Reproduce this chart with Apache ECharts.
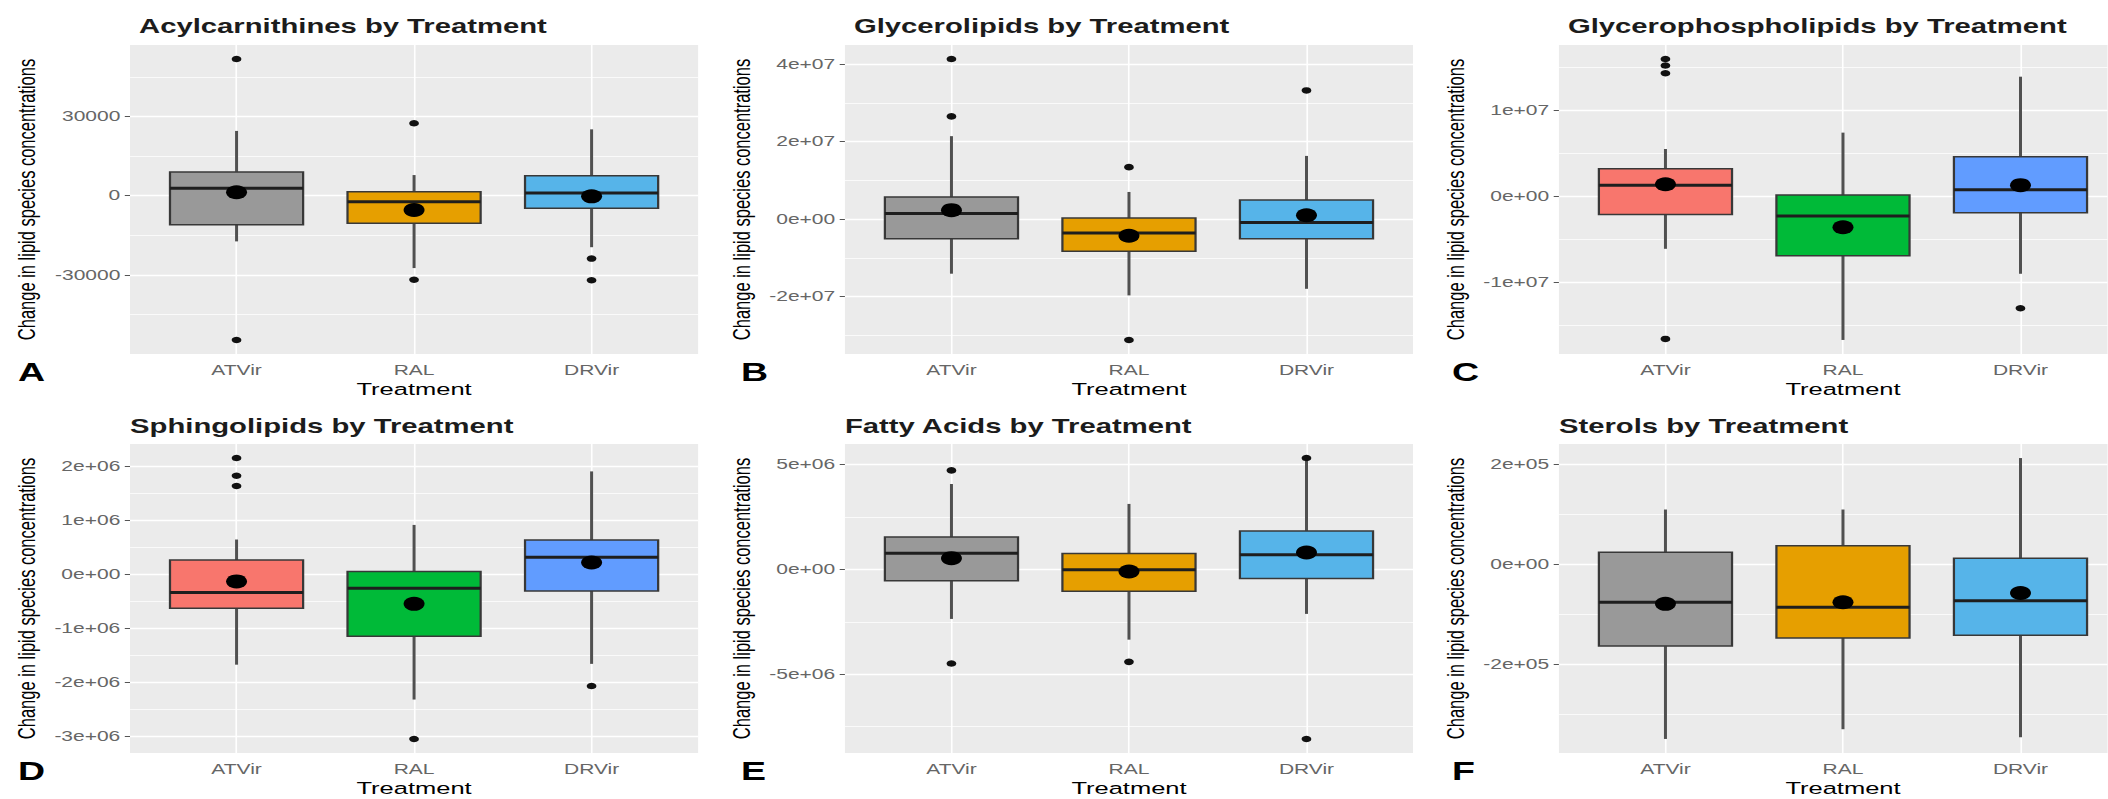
<!DOCTYPE html>
<html>
<head>
<meta charset="utf-8">
<script src="https://cdn.jsdelivr.net/npm/echarts@6/dist/echarts.min.js"></script>
<style>
html, body { margin: 0; padding: 0; background: #ffffff; overflow: hidden; width: 2108px; height: 799px; }
#chart { width: 1405.33px; height: 799px; transform: scaleX(1.5); transform-origin: 0 0; }
</style>
</head>
<body>
<div id="chart"></div>
<script>
// ---------------- DATA ----------------
const categories = ['ATVir', 'RAL', 'DRVir'];
const yAxisTitle = 'Change in lipid species concentrations';
const xAxisTitle = 'Treatment';

// each box: [lower whisker, Q1, median, Q3, upper whisker]; outliers: [category index, value]

// A - Acylcarnithines
const acylBoxes = [
  [-17300, -11000, 2800, 9000, 24500],
  [-27400, -10400, -2300, 1500, 7800],
  [-19500, -4800, 1000, 7500, 25100]
];
const acylMeans = [1300, -5400, -250];
const acylOutliers = [[0, 51700], [0, -54600], [1, 27400], [1, -31800], [2, -23800], [2, -32000]];
const acylTicks = [-30000, 0, 30000];
const acylTickLabels = ['-30000', '0', '30000'];
const acylMinorTicks = [-45000, -15000, 15000, 45000];

// B - Glycerolipids
const glyBoxes = [
  [-14100000, -5100000, 1450000, 5700000, 21400000],
  [-19700000, -8300000, -3600000, 260000, 7000000],
  [-18000000, -5100000, -860000, 4900000, 16300000]
];
const glyMeans = [2300000, -4300000, 1000000];
const glyOutliers = [[0, 41300000], [0, 26500000], [1, 13400000], [1, -31200000], [2, 33200000]];
const glyTicks = [-20000000, 0, 20000000, 40000000];
const glyTickLabels = ['-2e+07', '0e+00', '2e+07', '4e+07'];
const glyMinorTicks = [-30000000, -10000000, 10000000, 30000000];

// C - Glycerophospholipids
const gplBoxes = [
  [-6100000, -2100000, 1300000, 3200000, 5500000],
  [-16690000, -6900000, -2300000, 150000, 7400000],
  [-9000000, -1900000, 770000, 4600000, 13900000]
];
const gplMeans = [1400000, -3600000, 1300000];
const gplOutliers = [[0, 15950000], [0, 15200000], [0, 14300000], [0, -16570000], [2, -13000000]];
const gplTicks = [-10000000, 0, 10000000];
const gplTickLabels = ['-1e+07', '0e+00', '1e+07'];
const gplMinorTicks = [-15000000, -5000000, 5000000, 15000000];

// D - Sphingolipids
const sphBoxes = [
  [-1675000, -630000, -340000, 260000, 640000],
  [-2320000, -1150000, -260000, 50000, 910000],
  [-1660000, -310000, 310000, 630000, 1900000]
];
const sphMeans = [-135000, -550000, 215000];
const sphOutliers = [[0, 2147000], [0, 1820000], [0, 1630000], [1, -3049000], [2, -2070000]];
const sphTicks = [-3000000, -2000000, -1000000, 0, 1000000, 2000000];
const sphTickLabels = ['-3e+06', '-2e+06', '-1e+06', '0e+00', '1e+06', '2e+06'];
const sphMinorTicks = [-2500000, -1500000, -500000, 500000, 1500000];

// E - Fatty Acids
const faBoxes = [
  [-2360000, -540000, 780000, 1550000, 4080000],
  [-3350000, -1040000, -16000, 760000, 3130000],
  [-2120000, -430000, 700000, 1840000, 5190000]
];
const faMeans = [540000, -95000, 810000];
const faOutliers = [[0, 4730000], [0, -4490000], [1, -4410000], [2, 5320000], [2, -8090000]];
const faTicks = [-5000000, 0, 5000000];
const faTickLabels = ['-5e+06', '0e+00', '5e+06'];
const faMinorTicks = [-7500000, -2500000, 2500000];

// F - Sterols
const stBoxes = [
  [-348400, -163300, -76000, 24000, 109000],
  [-329000, -147000, -86000, 37000, 109000],
  [-345000, -141500, -73000, 12000, 211600]
];
const stMeans = [-79000, -76000, -57500];
const stOutliers = [];
const stTicks = [-200000, 0, 200000];
const stTickLabels = ['-2e+05', '0e+00', '2e+05'];
const stMinorTicks = [-300000, -100000, 100000];

// ---------------- STYLE / LAYOUT ----------------
const FONT = '"Liberation Sans", Arial, Helvetica, sans-serif';
const PAL_CB = ['#999999', '#E69F00', '#56B4E9'];
const PAL_GG = ['#F8766D', '#00BA38', '#619CFF'];
const COL_LEFT = [86.7, 563.3, 1039.3];
const TAG_LEFT = [12, 494, 968];
const ROW_TOP = [45, 444];
const PLOT_W = 378.7;
const PLOT_H = 309;
const TITLE_TOP = [16.3, 416.3];
const TITLE_DX = [6, 0];
const TAG_Y = [372.5, 771];
const BOX_WIDTH = 0.75;

const panels = [
  { title: 'Acylcarnithines by Treatment', tag: 'A', boxes: acylBoxes, means: acylMeans, outliers: acylOutliers, ticks: acylTicks, tickLabels: acylTickLabels, minor: acylMinorTicks, palette: PAL_CB, col: 0, row: 0 },
  { title: 'Glycerolipids by Treatment', tag: 'B', boxes: glyBoxes, means: glyMeans, outliers: glyOutliers, ticks: glyTicks, tickLabels: glyTickLabels, minor: glyMinorTicks, palette: PAL_CB, col: 1, row: 0 },
  { title: 'Glycerophospholipids by Treatment', tag: 'C', boxes: gplBoxes, means: gplMeans, outliers: gplOutliers, ticks: gplTicks, tickLabels: gplTickLabels, minor: gplMinorTicks, palette: PAL_GG, col: 2, row: 0 },
  { title: 'Sphingolipids by Treatment', tag: 'D', boxes: sphBoxes, means: sphMeans, outliers: sphOutliers, ticks: sphTicks, tickLabels: sphTickLabels, minor: sphMinorTicks, palette: PAL_GG, col: 0, row: 1 },
  { title: 'Fatty Acids by Treatment', tag: 'E', boxes: faBoxes, means: faMeans, outliers: faOutliers, ticks: faTicks, tickLabels: faTickLabels, minor: faMinorTicks, palette: PAL_CB, col: 1, row: 1 },
  { title: 'Sterols by Treatment', tag: 'F', boxes: stBoxes, means: stMeans, outliers: stOutliers, ticks: stTicks, tickLabels: stTickLabels, minor: stMinorTicks, palette: PAL_CB, col: 2, row: 1 }
];

function renderBox(params, api) {
  const x = api.value(0);
  const pLo = api.coord([x, api.value(1)]);
  const pQ1 = api.coord([x, api.value(2)]);
  const pMed = api.coord([x, api.value(3)]);
  const pQ3 = api.coord([x, api.value(4)]);
  const pHi = api.coord([x, api.value(5)]);
  const half = api.size([BOX_WIDTH, 0])[0] / 2;
  const cx = pMed[0];
  return {
    type: 'group',
    children: [
      { type: 'line', shape: { x1: cx, y1: pHi[1], x2: cx, y2: pQ3[1] }, style: { stroke: '#505050', lineWidth: 2 } },
      { type: 'line', shape: { x1: cx, y1: pQ1[1], x2: cx, y2: pLo[1] }, style: { stroke: '#505050', lineWidth: 2 } },
      { type: 'rect', shape: { x: cx - half, y: pQ3[1], width: 2 * half, height: pQ1[1] - pQ3[1] }, style: { fill: api.visual('color'), stroke: '#383838', lineWidth: 1.5 } },
      { type: 'line', shape: { x1: cx - half, y1: pMed[1], x2: cx + half, y2: pMed[1] }, style: { stroke: '#1e1e1e', lineWidth: 3 } }
    ]
  };
}

const option = {
  animation: false,
  backgroundColor: '#ffffff',
  textStyle: { fontFamily: FONT },
  title: [], grid: [], xAxis: [], yAxis: [], series: [], graphic: []
};

panels.forEach((p, i) => {
  const left = COL_LEFT[p.col];
  const top = ROW_TOP[p.row];
  const positions = categories.map((c, k) => k + 1);
  const allVals = [];
  p.boxes.forEach(b => { allVals.push(b[0], b[4]); });
  p.outliers.forEach(o => allVals.push(o[1]));
  const dMin = Math.min(...allVals), dMax = Math.max(...allVals);
  const pad = (dMax - dMin) * 0.05;

  option.grid.push({
    left: left, top: top, width: PLOT_W, height: PLOT_H, z: 0,
    show: true, backgroundColor: '#EBEBEB', borderWidth: 0,
    containLabel: false, outerBoundsMode: 'none'
  });
  option.title.push({
    text: p.title, left: left + TITLE_DX[p.row], top: TITLE_TOP[p.row], padding: 0,
    textStyle: { fontSize: 19.5, lineHeight: 20, fontWeight: 'bold', color: '#1c1c1c', fontFamily: FONT }
  });
  option.xAxis.push({
    type: 'value', gridIndex: i, min: 0.4, max: 3.6,
    name: xAxisTitle, nameLocation: 'middle', nameGap: 27,
    nameTextStyle: { fontSize: 17, color: '#000', fontFamily: FONT },
    axisLine: { show: false }, splitLine: { show: false }, minorSplitLine: { show: false },
    axisTick: { show: true, customValues: positions, length: 3.5, lineStyle: { color: '#555', width: 1 } },
    axisLabel: { show: true, customValues: positions, formatter: v => categories[Math.round(v) - 1] || '', fontSize: 14, color: '#666', margin: 9, fontFamily: FONT }
  });
  option.yAxis.push({
    type: 'value', gridIndex: i, min: dMin - pad, max: dMax + pad,
    name: yAxisTitle, nameLocation: 'middle', nameGap: 61,
    nameTextStyle: { fontSize: 16.5, color: '#000', fontFamily: FONT },
    axisLine: { show: false }, splitLine: { show: false },
    axisTick: { show: true, customValues: p.ticks, length: 3.5, lineStyle: { color: '#555', width: 1 } },
    axisLabel: { show: true, customValues: p.ticks, formatter: v => { const k = p.ticks.indexOf(v); return k >= 0 ? p.tickLabels[k] : ''; }, fontSize: 14, color: '#666', margin: 6.5, fontFamily: FONT }
  });

  const gridLines = [];
  p.ticks.forEach(v => gridLines.push({ yAxis: v, lineStyle: { width: 1.3 } }));
  p.minor.forEach(v => gridLines.push({ yAxis: v, lineStyle: { width: 0.6 } }));
  positions.forEach(v => gridLines.push({ xAxis: v, lineStyle: { width: 1.1 } }));

  option.series.push({
    type: 'line', xAxisIndex: i, yAxisIndex: i, data: [], silent: true, z: 1,
    markLine: {
      silent: true, z: 1, symbol: ['none', 'none'], animation: false, label: { show: false },
      lineStyle: { color: '#ffffff', type: 'solid', opacity: 1 },
      emphasis: { disabled: true },
      data: gridLines
    }
  });
  option.series.push({
    type: 'custom', xAxisIndex: i, yAxisIndex: i, z: 3, silent: true,
    renderItem: renderBox, encode: { x: 0, y: [1, 2, 3, 4, 5] },
    data: p.boxes.map((b, k) => ({ value: [k + 1].concat(b), itemStyle: { color: p.palette[k] } }))
  });
  option.series.push({
    type: 'scatter', xAxisIndex: i, yAxisIndex: i, z: 4, silent: true,
    symbol: 'circle', symbolSize: 6.5, itemStyle: { color: '#111', opacity: 1 },
    data: p.outliers.map(o => [o[0] + 1, o[1]])
  });
  option.series.push({
    type: 'scatter', xAxisIndex: i, yAxisIndex: i, z: 5, silent: true,
    symbol: 'circle', symbolSize: 14, itemStyle: { color: '#000', opacity: 1 },
    data: p.means.map((m, k) => [k + 1, m])
  });

  option.graphic.push({
    type: 'text', x: TAG_LEFT[p.col], y: TAG_Y[p.row], silent: true,
    style: { text: p.tag, fill: '#000', font: 'bold 25px "Liberation Sans", Arial, sans-serif', align: 'left', verticalAlign: 'middle' }
  });
});

const chart = echarts.init(document.getElementById('chart'), null, { renderer: 'svg' });
chart.setOption(option);
</script>
</body>
</html>
